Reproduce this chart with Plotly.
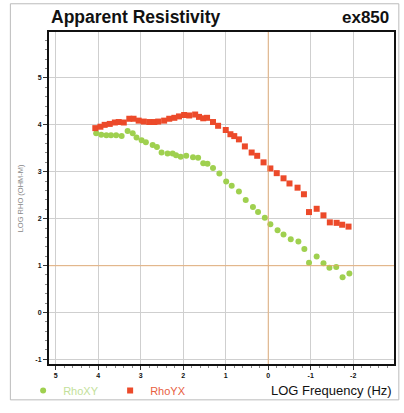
import plotly.graph_objects as go

# LOG frequency (Hz) and LOG apparent resistivity values
rhoyx_f = [4.07, 3.95, 3.85, 3.73, 3.61, 3.52, 3.40, 3.27, 3.17, 3.05, 2.93, 2.80, 2.68, 2.59,
           2.45, 2.33, 2.21, 2.10, 1.98, 1.86, 1.72, 1.63, 1.53, 1.44, 1.30, 1.18, 1.00, 0.89,
           0.80, 0.69, 0.55, 0.39, 0.26, 0.11, -0.05, -0.20, -0.36, -0.50, -0.69, -0.84, -0.96,
           -1.14, -1.30, -1.45, -1.61, -1.74, -1.89]
rhoyx_v = [3.93, 3.96, 4.00, 4.02, 4.05, 4.06, 4.05, 4.13, 4.13, 4.09, 4.07, 4.06, 4.06, 4.07,
           4.09, 4.13, 4.15, 4.18, 4.21, 4.20, 4.22, 4.17, 4.14, 4.15, 4.06, 3.98, 3.89, 3.80,
           3.76, 3.69, 3.54, 3.41, 3.34, 3.20, 3.07, 2.97, 2.86, 2.75, 2.66, 2.52, 2.14,
           2.21, 2.07, 1.92, 1.91, 1.87, 1.83]

rhoxy_f = [4.05, 3.93, 3.81, 3.70, 3.58, 3.45, 3.31, 3.19, 3.10, 2.98, 2.88, 2.72, 2.62, 2.51,
           2.37, 2.25, 2.17, 2.06, 1.93, 1.77, 1.65, 1.53, 1.43, 1.30, 1.15, 0.99, 0.86, 0.69,
           0.53, 0.36, 0.24, 0.08, -0.05, -0.22, -0.36, -0.53, -0.71, -0.85, -0.96, -1.14,
           -1.30, -1.44, -1.60, -1.75, -1.91]
rhoxy_v = [3.82, 3.79, 3.78, 3.78, 3.78, 3.76, 3.87, 3.82, 3.73, 3.67, 3.63, 3.57, 3.53, 3.41,
           3.39, 3.39, 3.35, 3.32, 3.34, 3.31, 3.30, 3.18, 3.17, 3.08, 2.96, 2.79, 2.70, 2.58,
           2.40, 2.25, 2.14, 2.02, 1.88, 1.75, 1.66, 1.56, 1.51, 1.35, 1.06, 1.19,
           1.05, 0.95, 0.97, 0.75, 0.83]

x_ticks = [5, 4, 3, 2, 1, 0, -1, -2]
y_ticks = [-1, 0, 1, 2, 3, 4, 5]

GREEN = "#9fd04f"
RED = "#ec4a2a"

fig = go.Figure()

ORANGE = "#f0a862"
# orange reference lines at LOG f = 0 and LOG rho = 1
fig.add_shape(type="line", xref="x", yref="paper", x0=0, x1=0, y0=0, y1=1,
              line=dict(color=ORANGE, width=1.2), layer="above", opacity=0.6)
fig.add_shape(type="line", xref="paper", yref="y", x0=0, x1=1, y0=1, y1=1,
              line=dict(color=ORANGE, width=1.2), layer="above", opacity=0.6)

fig.add_trace(go.Scatter(
    x=rhoxy_f, y=rhoxy_v, mode="markers", name="<span style='color:#c3df9a'>RhoXY</span>",
    marker=dict(symbol="circle", size=6, color=GREEN, line=dict(width=0)),
))
fig.add_trace(go.Scatter(
    x=rhoyx_f, y=rhoyx_v, mode="markers", name="<span style='color:#e8603f'>RhoYX</span>",
    marker=dict(symbol="square", size=6, color=RED, line=dict(width=0)),
))

tickfont = dict(family="Liberation Sans, Arial", size=7, color="#111111", weight="bold")

fig.update_xaxes(
    range=[5.16, -2.96], tickvals=x_ticks, ticktext=[str(v) for v in x_ticks],
    showgrid=True, gridcolor="#cfcfcf", gridwidth=1, zeroline=False,
    showline=True, linecolor="#111111", linewidth=1.5, mirror=True,
    ticks="outside", ticklen=4, tickcolor="#333333", tickfont=tickfont,
    minor=dict(dtick=0.2, ticks="outside", ticklen=2, tickcolor="#888888", showgrid=False),
)
fig.update_yaxes(
    range=[-1.1, 5.98], tickvals=y_ticks, ticktext=[str(v) for v in y_ticks],
    showgrid=True, gridcolor="#cfcfcf", gridwidth=1, zeroline=False,
    showline=True, linecolor="#111111", linewidth=2, mirror=True,
    ticks="outside", ticklen=4, tickcolor="#333333", tickfont=tickfont,
    minor=dict(dtick=0.2, ticks="outside", ticklen=2, tickcolor="#888888", showgrid=False),
)

fig.update_layout(
    width=404, height=413,
    margin=dict(l=49, r=8, t=32, b=40),
    paper_bgcolor="white", plot_bgcolor="white",
    font=dict(family="Liberation Sans, Arial"),
    showlegend=True,
    legend=dict(orientation="h", x=-0.075, y=-0.08, xanchor="left", yanchor="middle",
                font=dict(size=11), bgcolor="rgba(0,0,0,0)", entrywidth=42, entrywidthmode="pixels"),
    annotations=[
        dict(text="<b>Apparent Resistivity</b>", xref="paper", yref="paper", x=0.0, y=1.044,
             xanchor="left", yanchor="middle", showarrow=False,
             font=dict(size=17.5, color="#111111", family="Liberation Sans, Arial")),
        dict(text="<b>ex850</b>", xref="paper", yref="paper", x=0.99, y=1.044,
             xanchor="right", yanchor="middle", showarrow=False,
             font=dict(size=17, color="#111111", family="Liberation Sans, Arial")),
        dict(text="LOG RHO (OHM-M)", xref="paper", yref="paper", x=-0.083, y=0.5,
             xanchor="center", yanchor="middle", textangle=-90, showarrow=False,
             font=dict(size=7.5, color="#888888", family="Liberation Sans, Arial")),
        dict(text="LOG Frequency (Hz)", xref="paper", yref="paper", x=1.0, y=-0.079,
             xanchor="right", yanchor="middle", showarrow=False,
             font=dict(size=13, color="#111111", family="Liberation Sans, Arial")),
    ],
)
fig.add_shape(type="rect", xref="paper", yref="paper", x0=-0.112, x1=1.014, y0=-0.108, y1=1.085,
              line=dict(color="#bbbbbb", width=1), layer="below")

fig.write_html("out.html")
